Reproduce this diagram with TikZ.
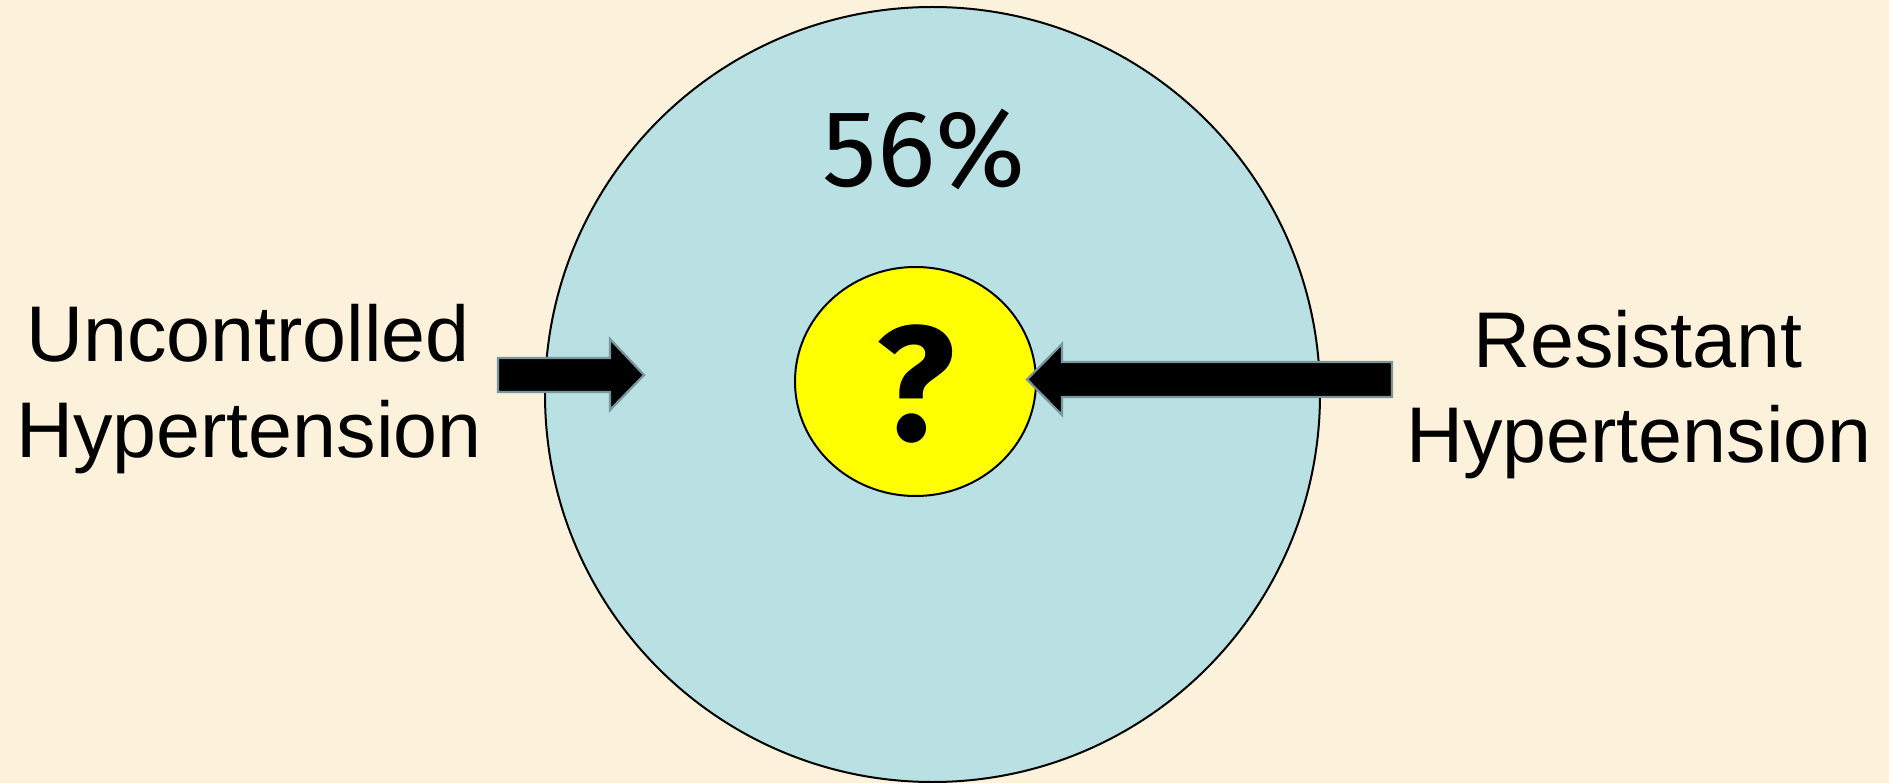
\documentclass[tikz,border=0pt]{standalone}
\usepackage{fontspec}
\setmainfont{Liberation Sans}
\newfontfamily\pctfont{Fira Sans}
\definecolor{bgcream}{RGB}{252,241,219}
\definecolor{circblue}{RGB}{185,224,227}
\definecolor{qyellow}{RGB}{255,255,0}
\definecolor{arrowedge}{RGB}{120,150,155}
\tikzset{
  blockarrow/.style={fill=black, draw=arrowedge, line width=2.2pt, line join=miter},
  sidelabel/.style={inner sep=0pt, anchor=base, font=\fontsize{79}{95}\selectfont},
}
\begin{document}
\begin{tikzpicture}[x=1pt,y=-1pt]
\fill[bgcream] (0,0) rectangle (1889,783);
\useasboundingbox (0,0) rectangle (1889,783);
% outer circle
\node[circle, draw=black, line width=2pt, fill=circblue, minimum size=775pt, inner sep=0pt] (outer) at (932.5,394.5) {};
% inner ellipse
\draw[black, line width=2pt, fill=qyellow] (915.5,381.5) ellipse [x radius=120.5, y radius=114.5];
\node[inner sep=0pt, anchor=center, font=\pctfont\bfseries\fontsize{163}{163}\selectfont] (q) at (915.5,384) {?};
\node[inner sep=0pt, anchor=base, font=\pctfont\fontsize{109}{109}\selectfont] (pct) at (924,187) {56\%};
% labels
\node[sidelabel] (ul1) at (248,362) {Uncontrolled};
\node[sidelabel] (ul2) at (249,457) {Hypertension};
\node[sidelabel] (rl1) at (1638,367) {Resistant};
\node[sidelabel] (rl2) at (1639,462) {Hypertension};
% left block arrow
\coordinate (la) at (498,375);
\coordinate (lb) at (644,375);
\draw[blockarrow] (498,358) -- (610,358) -- (610,339) -- (lb) -- (610,410) -- (610,392) -- (498,392) -- cycle;
% right block arrow
\coordinate (ra) at (1392,379.5);
\coordinate (rb) at (1027,379.5);
\draw[blockarrow] (1392,362) -- (1062,362) -- (1062,344) -- (rb) -- (1062,415) -- (1062,397) -- (1392,397) -- cycle;
\end{tikzpicture}
\end{document}
